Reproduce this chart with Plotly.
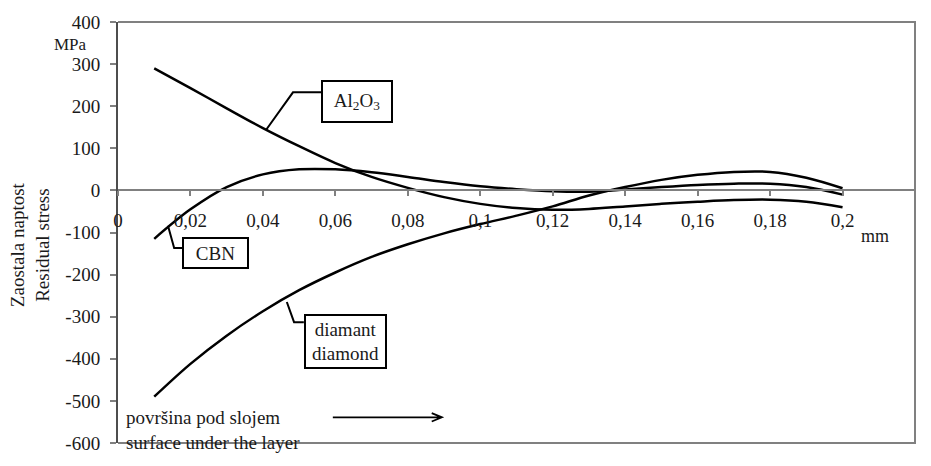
import plotly.graph_objects as go

# Data
x_vals = [0.01, 0.02, 0.03, 0.04, 0.05, 0.06, 0.07, 0.08, 0.09, 0.10,
          0.11, 0.12, 0.13, 0.14, 0.15, 0.16, 0.17, 0.18, 0.19, 0.20]
al2o3 = [290, 243, 195, 148, 105, 65, 32, 6, -16, -32,
         -42, -46, -44, -38, -32, -27, -23, -22, -27, -40]
cbn = [-115, -45, 8, 38, 50, 50, 43, 32, 20, 10,
       3, -2, -3, 2, 8, 13, 16, 16, 8, -10]
diamond = [-490, -412, -345, -287, -237, -195, -158, -128, -102, -80,
           -60, -38, -12, 8, 25, 37, 44, 44, 30, 5]

x_ticks = [0, 0.02, 0.04, 0.06, 0.08, 0.1, 0.12, 0.14, 0.16, 0.18, 0.2, 0.22]
x_ticktext = ["0", "0,02", "0,04", "0,06", "0,08", "0,1", "0,12", "0,14", "0,16", "0,18", "0,2", "0,22"]
y_ticks = [400, 300, 200, 100, 0, -100, -200, -300, -400, -500, -600]
y_ticktext = ["400", "300", "200", "100", "0", "-100", "-200", "-300", "-400", "-500", "-600"]

FONT = "Liberation Serif"
TXT = "#1a1a1a"
GRID = "#808080"
FS = 19

fig = go.Figure()
for name, ys in [("Al2O3", al2o3), ("CBN", cbn), ("diamond", diamond)]:
    fig.add_trace(go.Scatter(x=x_vals, y=ys, mode="lines", name=name,
                             line=dict(color="black", width=2.5, shape="spline", smoothing=1.0),
                             showlegend=False, hoverinfo="skip"))

W, H = 931, 466
L, R, T, B = 118, 16, 15, 13

fig.update_layout(
    width=W, height=H,
    margin=dict(l=L, r=R, t=T, b=B),
    paper_bgcolor="white", plot_bgcolor="white",
    font=dict(family=FONT, size=FS, color=TXT),
    showlegend=False,
)
fig.update_xaxes(
    range=[0, 0.22], tickvals=x_ticks, ticktext=x_ticktext,
    anchor="free", position=0.6,
    showgrid=False, zeroline=False,
    showline=True, linecolor=GRID, linewidth=1.5,
    ticks="outside", ticklen=5, tickcolor=GRID, tickwidth=1.5,
    ticklabelstandoff=8,
    tickfont=dict(family=FONT, size=FS, color=TXT),
)
fig.update_yaxes(
    range=[-600, 400], tickvals=y_ticks, ticktext=y_ticktext,
    showgrid=False, zeroline=False,
    showline=True, linecolor="#4d4d4d", linewidth=2,
    ticks="outside", ticklen=6, tickcolor=GRID, tickwidth=1.5,
    ticklabelstandoff=6,
    tickfont=dict(family=FONT, size=FS, color=TXT),
)

# frame (top, right, bottom)
fig.add_shape(type="path", xref="paper", yref="paper",
              path="M 0,1 L 1,1 L 1,0 L 0,0",
              line=dict(color=GRID, width=2))

# axis titles / units
fig.add_annotation(xref="paper", yref="paper", x=-88 / 797, y=0.47,
                   xanchor="center", yanchor="middle",
                   text="Zaostala naptost<br>Residual stress", textangle=-90,
                   showarrow=False, font=dict(family=FONT, size=FS, color=TXT))
fig.add_annotation(xref="paper", yref="paper", x=-48 / 797, y=1 - 23 / 438,
                   xanchor="center", yanchor="middle",
                   text="MPa", showarrow=False, font=dict(family=FONT, size=17, color=TXT))
fig.add_annotation(xref="paper", yref="paper", x=(875 - 118) / 797, y=1 - (238 - 15) / 438,
                   xanchor="center", yanchor="middle",
                   text="mm", showarrow=False, font=dict(family=FONT, size=18, color=TXT))

# labels with leader lines
def leader(pts):
    p = "M " + " L ".join(f"{a},{b}" for a, b in pts)
    fig.add_shape(type="path", xref="x", yref="y", path=p,
                  line=dict(color="black", width=2))

leader([(0.0607, 233), (0.0483, 233), (0.0409, 144)])
leader([(0.0177, -137), (0.0155, -137), (0.0138, -84)])
leader([(0.0513, -313), (0.0486, -313), (0.0466, -265)])

box = dict(showarrow=False, bordercolor="black", borderwidth=2, bgcolor="white",
           xanchor="center", yanchor="middle",
           font=dict(family=FONT, size=FS, color=TXT))
fig.add_annotation(x=0.0661, y=210, text="Al<sub>2</sub>O<sub>3</sub>", width=66, height=37, borderpad=1, **box)
fig.add_annotation(x=0.0269, y=-148, text="CBN", width=61, height=26, borderpad=1, **box)
fig.add_annotation(x=0.0628, y=-358, text="diamant<br>diamond", width=77, height=49, borderpad=1,
                   align="center", **box)

fig.add_annotation(x=0.0017, y=-568, xanchor="left", yanchor="middle",
                   text="površina pod slojem<br>surface under the layer",
                   align="left", showarrow=False, font=dict(family=FONT, size=FS, color=TXT))

# arrow
x0, x1, ya = 0.0593, 0.0894, -539
fig.add_shape(type="path", xref="x", yref="y",
              path=f"M {x0},{ya} L {x1},{ya} M {x1-0.0028},{ya+10} L {x1},{ya} L {x1-0.0028},{ya-10}",
              line=dict(color="black", width=1.8))

fig.write_html("out.html")
